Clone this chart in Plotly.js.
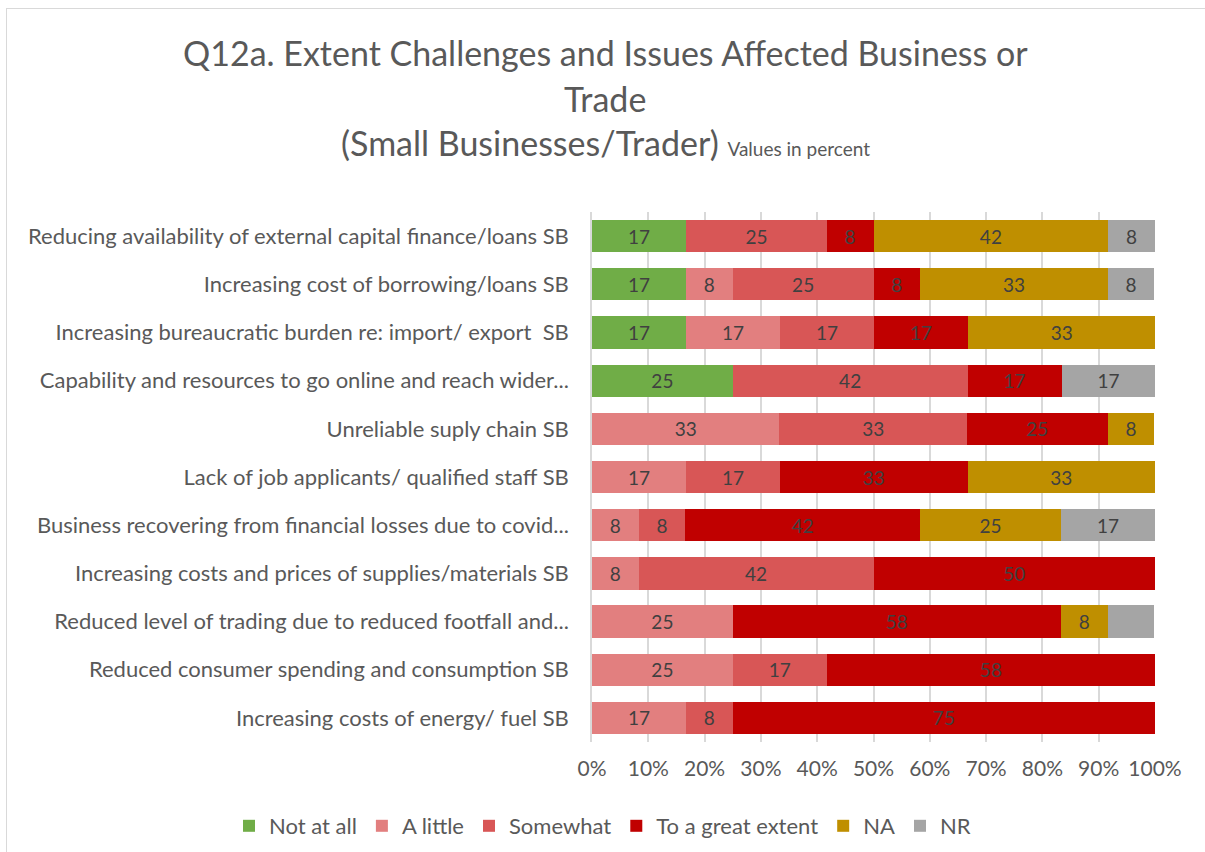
<!DOCTYPE html>
<html>
<head>
<meta charset="utf-8">
<script src="https://cdn.plot.ly/plotly-3.0.1.min.js"></script>
<style>
  html, body { margin: 0; padding: 0; background: #fff; }
  #wrap { position: relative; width: 1205px; height: 852px; overflow: hidden; }
  #frame { position: absolute; left: 6px; top: 8px; width: 1300px; height: 900px;
           border-left: 1.5px solid #d9d9d9; border-top: 1.5px solid #d9d9d9; pointer-events: none; }
  #chart { position: absolute; left: 0; top: 0; width: 1205px; height: 852px; }
</style>
</head>
<body>
<div id="wrap">
  <div id="chart"></div>
  <div id="frame"></div>
</div>
<script>
// Categories listed top to bottom
const categories = [
  "Reducing availability of external capital finance/loans SB",
  "Increasing cost of borrowing/loans SB",
  "Increasing bureaucratic burden re: import/ export  SB",
  "Capability and resources to go online and reach wider...",
  "Unreliable suply chain SB",
  "Lack of job applicants/ qualified staff SB",
  "Business recovering from financial losses due to covid...",
  "Increasing costs and prices of supplies/materials SB",
  "Reduced level of trading due to reduced footfall and...",
  "Reduced consumer spending and consumption SB",
  "Increasing costs of energy/ fuel SB"
];

const seriesNames = ["Not at all", "A little", "Somewhat", "To a great extent", "NA", "NR"];

const notAtAll  = [16.7, 16.7, 16.7, 25,   null, null, null, null, null, null, null];
const aLittle   = [null, 8.3,  16.7, null, 33.3, 16.7, 8.3,  8.3,  25,   25,   16.7];
const somewhat  = [25,   25,   16.7, 41.7, 33.3, 16.7, 8.3,  41.7, null, 16.7, 8.3];
const greatExt  = [8.3,  8.3,  16.7, 16.7, 25,   33.3, 41.7, 50,   58.3, 58.3, 75];
const na        = [41.7, 33.3, 33.3, null, 8.3,  33.3, 25,   null, 8.3,  null, null];
const nr        = [8.3,  8.3,  null, 16.7, null, null, 16.7, null, 8.3,  null, null];

// Whether a data label is shown for the NR segment (one is unlabeled in the original)
const nrLabelShown = [true, true, true, true, true, true, true, true, false, true, true];

const tickVals   = [0, 10, 20, 30, 40, 50, 60, 70, 80, 90, 100];
const tickLabels = ["0%", "10%", "20%", "30%", "40%", "50%", "60%", "70%", "80%", "90%", "100%"];

const titleLines = [
  "Q12a. Extent Challenges and Issues Affected Business or",
  "Trade",
  "(Small Businesses/Trader) <span style='font-size:19px'>Values in percent</span>"
];

const colors = ["#70AD47", "#E27F7F", "#D85656", "#C00000", "#BF8F00", "#A5A5A5"];
const allSeries = [notAtAll, aLittle, somewhat, greatExt, na, nr];

const FONT = "Lato, 'Open Sans', sans-serif";

const traces = allSeries.map((vals, i) => ({
  type: "bar",
  orientation: "h",
  name: seriesNames[i],
  y: categories,
  x: vals,
  text: vals.map((v, j) => (v == null || (i === 5 && !nrLabelShown[j])) ? "" : String(Math.round(v))),
  texttemplate: "%{text}",
  textposition: "inside",
  insidetextanchor: "middle",
  constraintext: "none",
  textfont: { family: FONT, size: 19, color: "#404040" },
  marker: { color: colors[i], line: { width: 0 } },
  hoverinfo: "name+x"
}));

const titleY = [52, 98, 143];
const annotations = titleLines.map((t, i) => ({
  text: t,
  xref: "paper", yref: "paper",
  x: (605 - 592) / 563,
  y: (742 - titleY[i]) / 530,
  xanchor: "center", yanchor: "middle",
  showarrow: false,
  font: { family: FONT, size: 34, color: "#595959" }
}));

const layout = {
  width: 1205,
  height: 852,
  barmode: "stack",
  bargap: 0.33,
  paper_bgcolor: "rgba(0,0,0,0)",
  plot_bgcolor: "#fff",
  margin: { l: 592, r: 50, t: 212, b: 110, autoexpand: false },
  font: { family: FONT, color: "#595959" },
  annotations: annotations,
  xaxis: {
    range: [0, 100],
    tickvals: tickVals,
    ticktext: tickLabels,
    tickfont: { family: FONT, size: 21, color: "#595959" },
    showgrid: true,
    gridcolor: "#d9d9d9",
    gridwidth: 1.5,
    zeroline: false,
    showline: false,
    ticks: "outside",
    ticklen: 8,
    tickcolor: "rgba(0,0,0,0)",
    fixedrange: true
  },
  yaxis: {
    autorange: "reversed",
    type: "category",
    tickfont: { family: FONT, size: 22, color: "#595959" },
    ticks: "",
    ticklabelstandoff: 17,
    showline: true,
    linecolor: "#d9d9d9",
    linewidth: 1.5,
    showgrid: false,
    fixedrange: true
  },
  legend: {
    orientation: "h",
    xref: "paper", yref: "paper",
    x: (229 - 592) / 563, xanchor: "left",
    y: (742 - 826) / 530, yanchor: "middle",
    font: { family: FONT, size: 22, color: "#595959" },
    traceorder: "normal",
    itemwidth: 30,
    itemclick: false
  },
  showlegend: true
};

Plotly.newPlot("chart", traces, layout, { displayModeBar: false });
</script>
</body>
</html>
